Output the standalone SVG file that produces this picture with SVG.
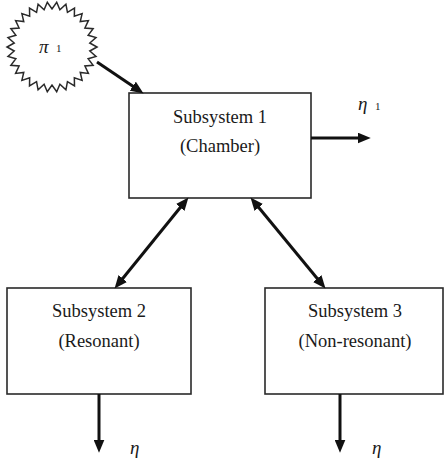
<svg xmlns="http://www.w3.org/2000/svg" width="444" height="464" viewBox="0 0 444 464">
<style>
.box{fill:#fff;stroke:#2a2a2a;stroke-width:1.6}
.lbl{font-family:"Liberation Serif","Times New Roman",serif;font-size:18.5px;fill:#1a1a1a;text-anchor:middle}
.sym{font-family:"Liberation Serif","Times New Roman",serif;font-style:italic;font-size:19px;fill:#1a1a1a}
.sub{font-family:"Liberation Serif","Times New Roman",serif;font-size:11px;fill:#1a1a1a}
.conn{stroke:#111;stroke-width:3;fill:none}
</style>
<defs>
<marker id="ah" markerUnits="userSpaceOnUse" markerWidth="13" markerHeight="11" viewBox="0 0 12 10" refX="3" refY="5" orient="auto-start-reverse">
<path d="M0,0 L12,5 L0,10 Z" fill="#111"/>
</marker>
</defs>
<g id="source">
<polygon fill="#fff" stroke="#2a2a2a" stroke-width="1.5" stroke-linejoin="miter" points="97,47 89.79,50.97 96.01,56.36 88.14,58.74 93.11,65.30 84.91,66 88.41,73.45 80.24,72.43 82.11,80.44 74.34,77.74 74.5,85.97 67.45,81.71 65.91,89.80 59.90,84.17 56.70,91.75 52,85 47.30,91.75 44.10,84.17 38.09,89.80 36.55,81.71 29.5,85.97 29.66,77.74 21.89,80.44 23.76,72.43 15.59,73.45 19.09,66 10.89,65.30 15.86,58.74 7.99,56.36 14.21,50.97 7,47 14.21,43.03 7.99,37.64 15.86,35.26 10.89,28.70 19.09,28 15.59,20.55 23.76,21.57 21.89,13.56 29.66,16.26 29.5,8.03 36.55,12.29 38.09,4.20 44.10,9.83 47.30,2.25 52,9 56.70,2.25 59.90,9.83 65.91,4.20 67.45,12.29 74.5,8.03 74.34,16.26 82.11,13.56 80.24,21.57 88.41,20.55 84.91,28 93.11,28.70 88.14,35.26 96.01,37.64 89.79,43.03"/>
<text class="sym" x="39" y="53">π</text>
<text class="sub" x="56" y="52">1</text>
</g>
<g id="subsystem1">
<rect class="box" x="129" y="93" width="182" height="105"/>
<text class="lbl" x="220" y="123">Subsystem 1</text>
<text class="lbl" x="220" y="152">(Chamber)</text>
</g>
<g id="subsystem2">
<rect class="box" x="7" y="288" width="184" height="106"/>
<text class="lbl" x="99" y="317">Subsystem 2</text>
<text class="lbl" x="99" y="347">(Resonant)</text>
</g>
<g id="subsystem3">
<rect class="box" x="265" y="288" width="178" height="106"/>
<text class="lbl" x="355" y="317">Subsystem 3</text>
<text class="lbl" x="355" y="347">(Non-resonant)</text>
</g>
<g id="labels">
<text class="sym" x="358" y="110">η</text>
<text class="sub" x="375" y="110">1</text>
<text class="sym" x="130" y="454">η</text>
<text class="sym" x="372" y="454">η</text>
</g>
<g id="connectors">
<line class="conn" x1="97" y1="62" x2="135.5" y2="88" marker-end="url(#ah)"/>
<line class="conn" x1="311" y1="138" x2="361" y2="138" marker-end="url(#ah)"/>
<line class="conn" x1="182.3" y1="205" x2="120.7" y2="281" marker-start="url(#ah)" marker-end="url(#ah)"/>
<line class="conn" x1="256.7" y1="205" x2="319.3" y2="281" marker-start="url(#ah)" marker-end="url(#ah)"/>
<line class="conn" x1="99" y1="394" x2="99" y2="443" marker-end="url(#ah)"/>
<line class="conn" x1="340" y1="394" x2="340" y2="443" marker-end="url(#ah)"/>
</g>
</svg>
